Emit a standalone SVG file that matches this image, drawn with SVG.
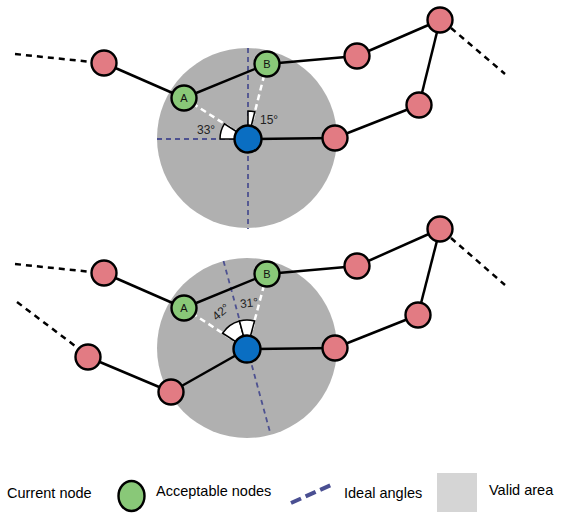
<svg xmlns="http://www.w3.org/2000/svg" width="568" height="515" viewBox="0 0 568 515">
<style>
.area{fill:#b0b0b0}
.edge{stroke:#000;stroke-width:2.5;fill:none}
.ext{stroke:#000;stroke-width:2.5;stroke-dasharray:6,5;fill:none}
.ideal{stroke:#4d5190;stroke-width:1.8;stroke-dasharray:5,4;fill:none}
.guide{stroke:#fff;stroke-width:2.5;stroke-dasharray:6,4;fill:none}
.wedge{fill:#fff;stroke:#000;stroke-width:1.5;stroke-linejoin:miter}
.pink{fill:#e27b83;stroke:#000;stroke-width:2.4}
.green{fill:#89c878;stroke:#000;stroke-width:2.4}
.blue{fill:#0a6ec2;stroke:#000;stroke-width:2.4}
.nl{font-family:"Liberation Sans",Arial,sans-serif;font-size:11px;fill:#111;text-anchor:middle}
.ang{font-family:"Liberation Sans",Arial,sans-serif;font-size:12px;fill:#222}
.leg{font-family:"Liberation Sans",Arial,sans-serif;font-size:14.5px;fill:#000}
</style>

<!-- valid areas -->
<g id="area1"><circle class="area" cx="247" cy="138" r="90"/></g>
<g id="area2"><circle class="area" cx="247" cy="348" r="90"/></g>

<!-- connectors -->
<g id="connectors">
  <!-- ideal angles -->
  <line class="ideal" x1="248" y1="48" x2="248" y2="229"/>
  <line class="ideal" x1="157" y1="139" x2="248" y2="139"/>
  <line class="ideal" x1="223.5" y1="261" x2="270.5" y2="434"/>
  <!-- guides to acceptable nodes -->
  <line class="guide" x1="248" y1="139" x2="184" y2="98"/>
  <line class="guide" x1="248" y1="139" x2="267" y2="64"/>
  <line class="guide" x1="247" y1="349" x2="184" y2="308"/>
  <line class="guide" x1="247" y1="349" x2="267" y2="274"/>
  <!-- upper chain -->
  <line class="ext" x1="15" y1="54" x2="92" y2="62"/>
  <line class="edge" x1="104" y1="63" x2="184" y2="98"/>
  <line class="edge" x1="184" y1="98" x2="267" y2="64"/>
  <line class="edge" x1="267" y1="64" x2="357" y2="56"/>
  <line class="edge" x1="357" y1="56" x2="440" y2="20"/>
  <line class="edge" x1="440" y1="20" x2="419" y2="105"/>
  <line class="edge" x1="419" y1="105" x2="335" y2="138"/>
  <line class="edge" x1="335" y1="138" x2="248" y2="139"/>
  <line class="ext" x1="451" y1="28" x2="505" y2="74"/>
  <!-- lower chain -->
  <line class="ext" x1="15" y1="264" x2="92" y2="272"/>
  <line class="ext" x1="17" y1="302" x2="79" y2="349"/>
  <line class="edge" x1="104" y1="273" x2="184" y2="308"/>
  <line class="edge" x1="184" y1="308" x2="267" y2="274"/>
  <line class="edge" x1="267" y1="274" x2="357" y2="266"/>
  <line class="edge" x1="357" y1="266" x2="440" y2="229"/>
  <line class="edge" x1="440" y1="229" x2="418" y2="315"/>
  <line class="edge" x1="418" y1="315" x2="335" y2="348"/>
  <line class="edge" x1="335" y1="348" x2="247" y2="349"/>
  <line class="edge" x1="247" y1="349" x2="171" y2="392"/>
  <line class="edge" x1="171" y1="392" x2="88" y2="357"/>
  <line class="ext" x1="451" y1="238" x2="505" y2="285"/>
</g>

<!-- angle markers -->
<g id="angles1">
  <path class="wedge" d="M248,139 L248,111 A28,28 0 0 1 254.8,111.8 Z"/>
  <path class="wedge" d="M248,139 L220,139 A28,28 0 0 1 224.4,123.9 Z"/>
  <text class="ang" x="260" y="124">15°</text>
  <text class="ang" x="197" y="134">33°</text>
</g>
<g id="angles2">
  <path class="wedge" d="M247,349 L222.7,333.2 A29,29 0 0 1 239.5,321 Z"/>
  <path class="wedge" d="M247,349 L239.5,321 A29,29 0 0 1 254.5,321 Z"/>
  <text class="ang" transform="translate(221,312) rotate(-40)" text-anchor="middle" dy="4">42°</text>
  <text class="ang" transform="translate(249,303) rotate(-6)" text-anchor="middle" dy="4">31°</text>
</g>

<!-- upper nodes -->
<g id="u-p1"><circle class="pink" cx="104" cy="63" r="12.5"/></g>
<g id="u-A"><circle class="green" cx="184" cy="98" r="12.5"/><text class="nl" x="184" y="102">A</text></g>
<g id="u-B"><circle class="green" cx="267" cy="64" r="12.5"/><text class="nl" x="267" y="68">B</text></g>
<g id="u-p2"><circle class="pink" cx="357" cy="56" r="12.5"/></g>
<g id="u-p3"><circle class="pink" cx="440" cy="20" r="12.5"/></g>
<g id="u-p4"><circle class="pink" cx="419" cy="105" r="12.5"/></g>
<g id="u-p5"><circle class="pink" cx="335" cy="138" r="12.5"/></g>
<g id="u-current"><circle class="blue" cx="248" cy="139" r="13.5"/></g>

<!-- lower nodes -->
<g id="l-p1"><circle class="pink" cx="104" cy="273" r="12.5"/></g>
<g id="l-A"><circle class="green" cx="184" cy="308" r="12.5"/><text class="nl" x="184" y="312">A</text></g>
<g id="l-B"><circle class="green" cx="267" cy="274" r="12.5"/><text class="nl" x="267" y="278">B</text></g>
<g id="l-p2"><circle class="pink" cx="357" cy="266" r="12.5"/></g>
<g id="l-p3"><circle class="pink" cx="440" cy="229" r="12.5"/></g>
<g id="l-p4"><circle class="pink" cx="418" cy="315" r="12.5"/></g>
<g id="l-p5"><circle class="pink" cx="335" cy="348" r="12.5"/></g>
<g id="l-p6"><circle class="pink" cx="171" cy="392" r="12.5"/></g>
<g id="l-p7"><circle class="pink" cx="88" cy="357" r="12.5"/></g>
<g id="l-current"><circle class="blue" cx="247" cy="349" r="13.5"/></g>

<!-- legend -->
<g id="legend">
  <text class="leg" x="7" y="498">Current node</text>
  <ellipse class="green" cx="131.5" cy="496" rx="13" ry="15"/>
  <text class="leg" x="156" y="496">Acceptable nodes</text>
  <line x1="291" y1="503" x2="331" y2="485" stroke="#4a4f92" stroke-width="4" stroke-dasharray="11,5"/>
  <text class="leg" x="344" y="498">Ideal angles</text>
  <rect x="437" y="473" width="40" height="39" fill="#d5d5d5"/>
  <text class="leg" x="489" y="495">Valid area</text>
</g>
</svg>
